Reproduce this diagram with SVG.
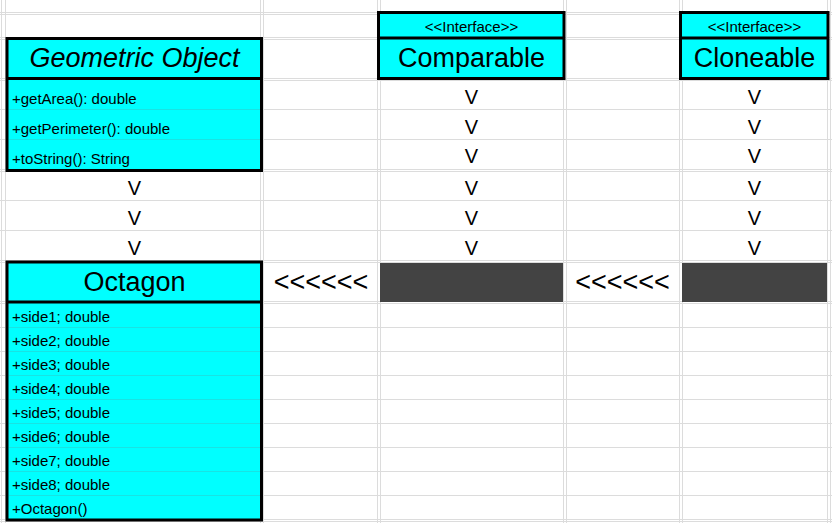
<svg xmlns="http://www.w3.org/2000/svg" width="832" height="523" viewBox="0 0 832 523">
  <style>
    .grid line { stroke: #dcdcdc; stroke-width: 1; }
    .box { fill: #00ffff; stroke: #000; stroke-width: 3; }
    .div { stroke: #000; stroke-width: 3; }
    .sep { stroke: #19e3e3; stroke-width: 1; }
    .title { font-family: "Liberation Sans", Arial, sans-serif; font-size: 27px; fill: #000; text-anchor: middle; }
    .stereo { font-family: "Liberation Sans", Arial, sans-serif; font-size: 15px; fill: #000; text-anchor: middle; }
    .member { font-family: "Liberation Sans", Arial, sans-serif; font-size: 15px; fill: #000; }
    .arrow { font-family: "Liberation Sans", Arial, sans-serif; font-size: 20px; fill: #000; text-anchor: middle; }
    .arrowh { font-family: "Liberation Sans", Arial, sans-serif; font-size: 27px; fill: #000; text-anchor: middle; }
    .dark { fill: #434343; }
  </style>

  <rect x="0" y="0" width="832" height="523" fill="#ffffff"/>

  <!-- sheet grid -->
  <g class="grid" id="grid">
    <line x1="0" y1="12.5" x2="832" y2="12.5"/>
    <line x1="0" y1="14.5" x2="832" y2="14.5"/>
    <line x1="0" y1="37.5" x2="832" y2="37.5"/>
    <line x1="0" y1="39.5" x2="832" y2="39.5"/>
    <line x1="0" y1="78.5" x2="832" y2="78.5"/>
    <line x1="0" y1="80.5" x2="832" y2="80.5"/>
    <line x1="0" y1="109.5" x2="832" y2="109.5"/>
    <line x1="0" y1="139.5" x2="832" y2="139.5"/>
    <line x1="0" y1="169.5" x2="832" y2="169.5"/>
    <line x1="0" y1="171.5" x2="832" y2="171.5"/>
    <line x1="0" y1="200.5" x2="832" y2="200.5"/>
    <line x1="0" y1="230.5" x2="832" y2="230.5"/>
    <line x1="0" y1="260.5" x2="832" y2="260.5"/>
    <line x1="0" y1="262.5" x2="832" y2="262.5"/>
    <line x1="0" y1="301.5" x2="832" y2="301.5"/>
    <line x1="0" y1="303.5" x2="832" y2="303.5"/>
    <line x1="0" y1="327.5" x2="832" y2="327.5"/>
    <line x1="0" y1="351.5" x2="832" y2="351.5"/>
    <line x1="0" y1="375.5" x2="832" y2="375.5"/>
    <line x1="0" y1="399.5" x2="832" y2="399.5"/>
    <line x1="0" y1="423.5" x2="832" y2="423.5"/>
    <line x1="0" y1="447.5" x2="832" y2="447.5"/>
    <line x1="0" y1="471.5" x2="832" y2="471.5"/>
    <line x1="0" y1="495.5" x2="832" y2="495.5"/>
    <line x1="0" y1="519.5" x2="832" y2="519.5"/>
    <line x1="0" y1="521.5" x2="832" y2="521.5"/>

    <line x1="1.5" y1="0" x2="1.5" y2="523"/>
    <line x1="5.5" y1="0" x2="5.5" y2="523"/>
    <line x1="260.5" y1="0" x2="260.5" y2="523"/>
    <line x1="263.5" y1="0" x2="263.5" y2="523"/>
    <line x1="377.5" y1="0" x2="377.5" y2="523"/>
    <line x1="380.5" y1="0" x2="380.5" y2="523"/>
    <line x1="563.5" y1="0" x2="563.5" y2="523"/>
    <line x1="566.5" y1="0" x2="566.5" y2="523"/>
    <line x1="679.5" y1="0" x2="679.5" y2="523"/>
    <line x1="682.5" y1="0" x2="682.5" y2="523"/>
    <line x1="827.5" y1="0" x2="827.5" y2="523"/>
    <line x1="830.5" y1="0" x2="830.5" y2="523"/>
  </g>

  <!-- class GeometricObject -->
  <g id="node-geometric-object">
    <rect class="box" x="7" y="38.5" width="254.5" height="132"/>
    <line class="sep" x1="9" y1="109.5" x2="260" y2="109.5"/>
    <line class="sep" x1="9" y1="139.5" x2="260" y2="139.5"/>
    <line class="div" x1="7" y1="78.5" x2="261.5" y2="78.5"/>
    <text class="title" x="134.5" y="67" font-style="italic">Geometric Object</text>
    <text class="member" x="12" y="103.5">+getArea(): double</text>
    <text class="member" x="12" y="133.5">+getPerimeter(): double</text>
    <text class="member" x="12" y="163.5">+toString(): String</text>
  </g>

  <!-- interface Comparable -->
  <g id="node-comparable">
    <rect class="box" x="378.5" y="12.5" width="185.5" height="66"/>
    <line class="div" x1="378.5" y1="38" x2="564" y2="38"/>
    <text class="stereo" x="471.5" y="32">&lt;&lt;Interface&gt;&gt;</text>
    <text class="title" x="471.5" y="67">Comparable</text>
  </g>

  <!-- interface Cloneable -->
  <g id="node-cloneable">
    <rect class="box" x="680.5" y="12.5" width="147.5" height="66"/>
    <line class="div" x1="680.5" y1="38" x2="828" y2="38"/>
    <text class="stereo" x="754.5" y="32">&lt;&lt;Interface&gt;&gt;</text>
    <text class="title" x="754.5" y="67">Cloneable</text>
  </g>

  <!-- class Octagon -->
  <g id="node-octagon">
    <rect class="box" x="7" y="262" width="254.5" height="258"/>
    <line class="sep" x1="9" y1="327.5" x2="260" y2="327.5"/>
    <line class="sep" x1="9" y1="351.5" x2="260" y2="351.5"/>
    <line class="sep" x1="9" y1="375.5" x2="260" y2="375.5"/>
    <line class="sep" x1="9" y1="399.5" x2="260" y2="399.5"/>
    <line class="sep" x1="9" y1="423.5" x2="260" y2="423.5"/>
    <line class="sep" x1="9" y1="447.5" x2="260" y2="447.5"/>
    <line class="sep" x1="9" y1="471.5" x2="260" y2="471.5"/>
    <line class="sep" x1="9" y1="495.5" x2="260" y2="495.5"/>
    <line class="div" x1="7" y1="302" x2="261.5" y2="302"/>
    <text class="title" x="134.5" y="291">Octagon</text>
    <text class="member" x="12" y="321.7">+side1; double</text>
    <text class="member" x="12" y="345.7">+side2; double</text>
    <text class="member" x="12" y="369.7">+side3; double</text>
    <text class="member" x="12" y="393.7">+side4; double</text>
    <text class="member" x="12" y="417.7">+side5; double</text>
    <text class="member" x="12" y="441.7">+side6; double</text>
    <text class="member" x="12" y="465.7">+side7; double</text>
    <text class="member" x="12" y="489.7">+side8; double</text>
    <text class="member" x="12" y="513.7">+Octagon()</text>
  </g>

  <!-- filled cells in the Octagon row -->
  <g id="node-filled-cells">
    <rect class="dark" x="380" y="263" width="183" height="39"/>
    <rect class="dark" x="682" y="263" width="145" height="39"/>
  </g>

  <!-- connectors drawn as characters -->
  <g id="connectors">
    <text class="arrow" x="134.5" y="194.5">V</text>
    <text class="arrow" x="134.5" y="224.5">V</text>
    <text class="arrow" x="134.5" y="254.5">V</text>

    <text class="arrow" x="471.5" y="103.5">V</text>
    <text class="arrow" x="471.5" y="133.5">V</text>
    <text class="arrow" x="471.5" y="163">V</text>
    <text class="arrow" x="471.5" y="194.5">V</text>
    <text class="arrow" x="471.5" y="224.5">V</text>
    <text class="arrow" x="471.5" y="254.5">V</text>

    <text class="arrow" x="754.5" y="103.5">V</text>
    <text class="arrow" x="754.5" y="133.5">V</text>
    <text class="arrow" x="754.5" y="163">V</text>
    <text class="arrow" x="754.5" y="194.5">V</text>
    <text class="arrow" x="754.5" y="224.5">V</text>
    <text class="arrow" x="754.5" y="254.5">V</text>

    <text class="arrowh" x="321" y="291">&lt;&lt;&lt;&lt;&lt;&lt;</text>
    <text class="arrowh" x="622.5" y="291">&lt;&lt;&lt;&lt;&lt;&lt;</text>
  </g>
</svg>
